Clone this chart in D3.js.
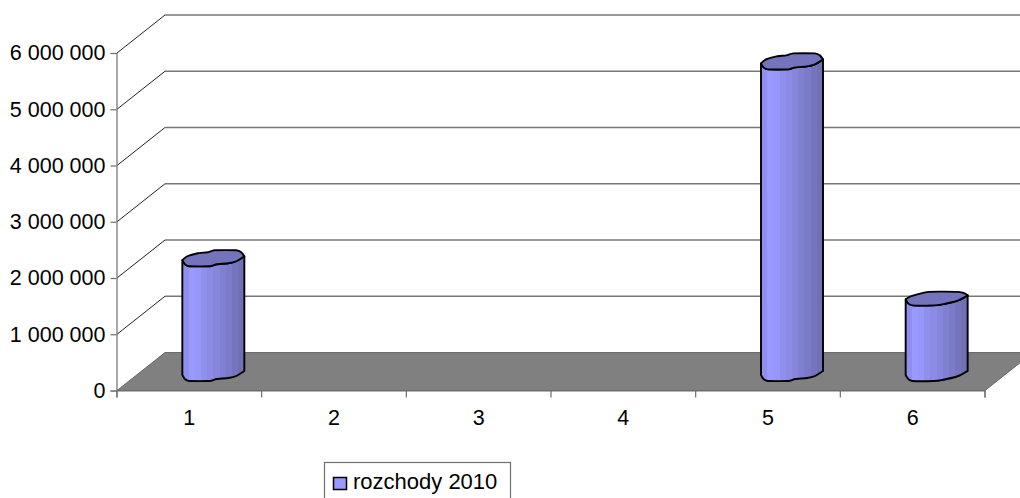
<!DOCTYPE html>
<html><head><meta charset="utf-8">
<script src="https://cdn.jsdelivr.net/npm/d3@7"></script>
<style>html,body{margin:0;padding:0;background:#fff;overflow:hidden}svg{display:block}text{font-family:"Liberation Sans",Arial,sans-serif;font-size:21.5px;fill:#000}</style>
</head><body><svg id="c" width="1020" height="498"></svg>
<script>
const categories = ["1","2","3","4","5","6"];
const seriesName = "rozchody 2010";
const values = [2040000, null, null, null, 5540000, 1345000];
const yTicks = [0,1000000,2000000,3000000,4000000,5000000,6000000];
// Faceted shading of the cylinder, left to right
const bandColors = ["#8f8ff0","#9999ff","#9797fb","#8f8fee","#8b8be6","#8686dd","#8080d3","#7b7bca","#7575bf","#7070b4"];
const topColor = "#7474bc";
// Outline of the uneven cap: fraction of bar width, px offset from the left corner's level
const capUpperA = [[0,0],[.08,-4],[.25,-7],[.41,-8],[.52,-10],[.87,-10],[.95,-8],[1,-4]];
const capLowerA = [[1,-4],[.87,1],[.74,3],[.55,4],[.44,6],[.11,6],[.04,4],[0,0]];
const capUpperB = [[0,0],[.08,-3],[.37,-7.5],[.85,-7.5],[.95,-6],[1,-4]];
const capLowerB = [[1,-4],[.85,1],[.59,5],[.45,6],[.11,6],[.04,4],[0,0]];
const capShapes = [[capUpperA,capLowerA],null,null,null,[capUpperA,capLowerA],[capUpperB,capLowerB]];

const svg = d3.select("#c");
const depthX = 48, depthY = -38, seat = 3.5;
const x = d3.scaleLinear().domain([0,categories.length]).range([117,985]);
const y = d3.scaleLinear().domain([0,6000000]).range([390.5,53]);
const fmt = v => d3.format(",")(v).replace(/,/g," ");

// Back wall lines with the side-wall diagonals
const grid = svg.append("g");
yTicks.slice(1).forEach(t=>{
  grid.append("line").attr("x1",x(0)+depthX).attr("x2",1020+depthX).attr("y1",y(t)+depthY).attr("y2",y(t)+depthY).attr("stroke","#777").attr("stroke-width",1.4);
  grid.append("line").attr("x1",x(0)).attr("x2",x(0)+depthX).attr("y1",y(t)).attr("y2",y(t)+depthY).attr("stroke","#222").attr("stroke-width",1);
});

// Floor
svg.append("path").attr("fill","#808080").attr("stroke","#555").attr("stroke-width",.8)
  .attr("d",d3.line()([[x(0),y(0)],[x(6),y(0)],[x(6)+depthX,y(0)+depthY],[x(0)+depthX,y(0)+depthY]])+"Z");

// Axes
const axL = d3.axisLeft(y).tickValues(yTicks).tickFormat(fmt).tickSize(6).tickPadding(5);
const gL = svg.append("g").attr("transform",`translate(${x(0)-.5},0)`).call(axL);
const axB = d3.axisBottom(x).tickValues(d3.range(0,7)).tickFormat("").tickSize(7);
const gB = svg.append("g").attr("transform",`translate(-.5,${y(0)})`).call(axB);
[gL,gB].forEach(g=>{g.selectAll(".domain,line").attr("stroke","#6e6e6e").attr("stroke-width",1.2);g.attr("font-size",null).attr("font-family",null);});
gL.selectAll("text").attr("fill","#000");
svg.append("g").selectAll("text").data(categories).join("text")
  .attr("x",(d,i)=>x(i+.5)).attr("y",424.5).attr("text-anchor","middle").text(d=>d);

// Cylinders
const defs = svg.append("defs");
const grad = defs.append("linearGradient").attr("id","cyl");
bandColors.forEach((c,i)=>{
  grad.append("stop").attr("offset",i/bandColors.length).attr("stop-color",c);
  grad.append("stop").attr("offset",(i+1)/bandColors.length).attr("stop-color",c);
});
const barW = 62;
const lin = d3.line().curve(d3.curveCardinal.tension(.5));
const cx = i => x(i+.5)+depthX/2;
const pts = (arr,x0,yl) => arr.map(p=>[x0+p[0]*barW,yl+p[1]]);
const tail = s => s.replace(/^M[^CL]*/,"");
const bars = svg.append("g");
values.forEach((v,i)=>{
  if(v==null) return;
  const [capU,capL] = capShapes[i];
  const x0 = cx(i)-barW/2, yb = y(0)+depthY/2+seat, yt = y(v)+depthY/2+seat;
  const upper = pts(capU,x0,yt), lower = pts(capL,x0,yt), base = pts(capL,x0,yb);
  const body = `M${x0+barW},${yt-4}L${x0+barW},${yb-4}` + tail(lin(base)) + `L${x0},${yt}` +
    tail(lin(lower.slice().reverse())) + "Z";
  bars.append("path").attr("d",body).attr("fill","url(#cyl)").attr("stroke","#000").attr("stroke-width",1.9).attr("stroke-linejoin","round");
  bars.append("path").attr("d",lin(upper)+tail(lin(lower))+"Z").attr("fill",topColor).attr("stroke","#000").attr("stroke-width",1.9).attr("stroke-linejoin","round");
});

// Legend
const lg = svg.append("g");
lg.append("rect").attr("x",324.5).attr("y",462.5).attr("width",186).attr("height",50).attr("fill","#fff").attr("stroke","#6e6e6e").attr("stroke-width",1.2);
lg.append("rect").attr("x",333.5).attr("y",477.5).attr("width",13).attr("height",12).attr("fill","#9999ff").attr("stroke","#000").attr("stroke-width",1.5);
lg.append("text").attr("x",353).attr("y",488.5).style("font-size","22px").text(seriesName);
</script></body></html>
